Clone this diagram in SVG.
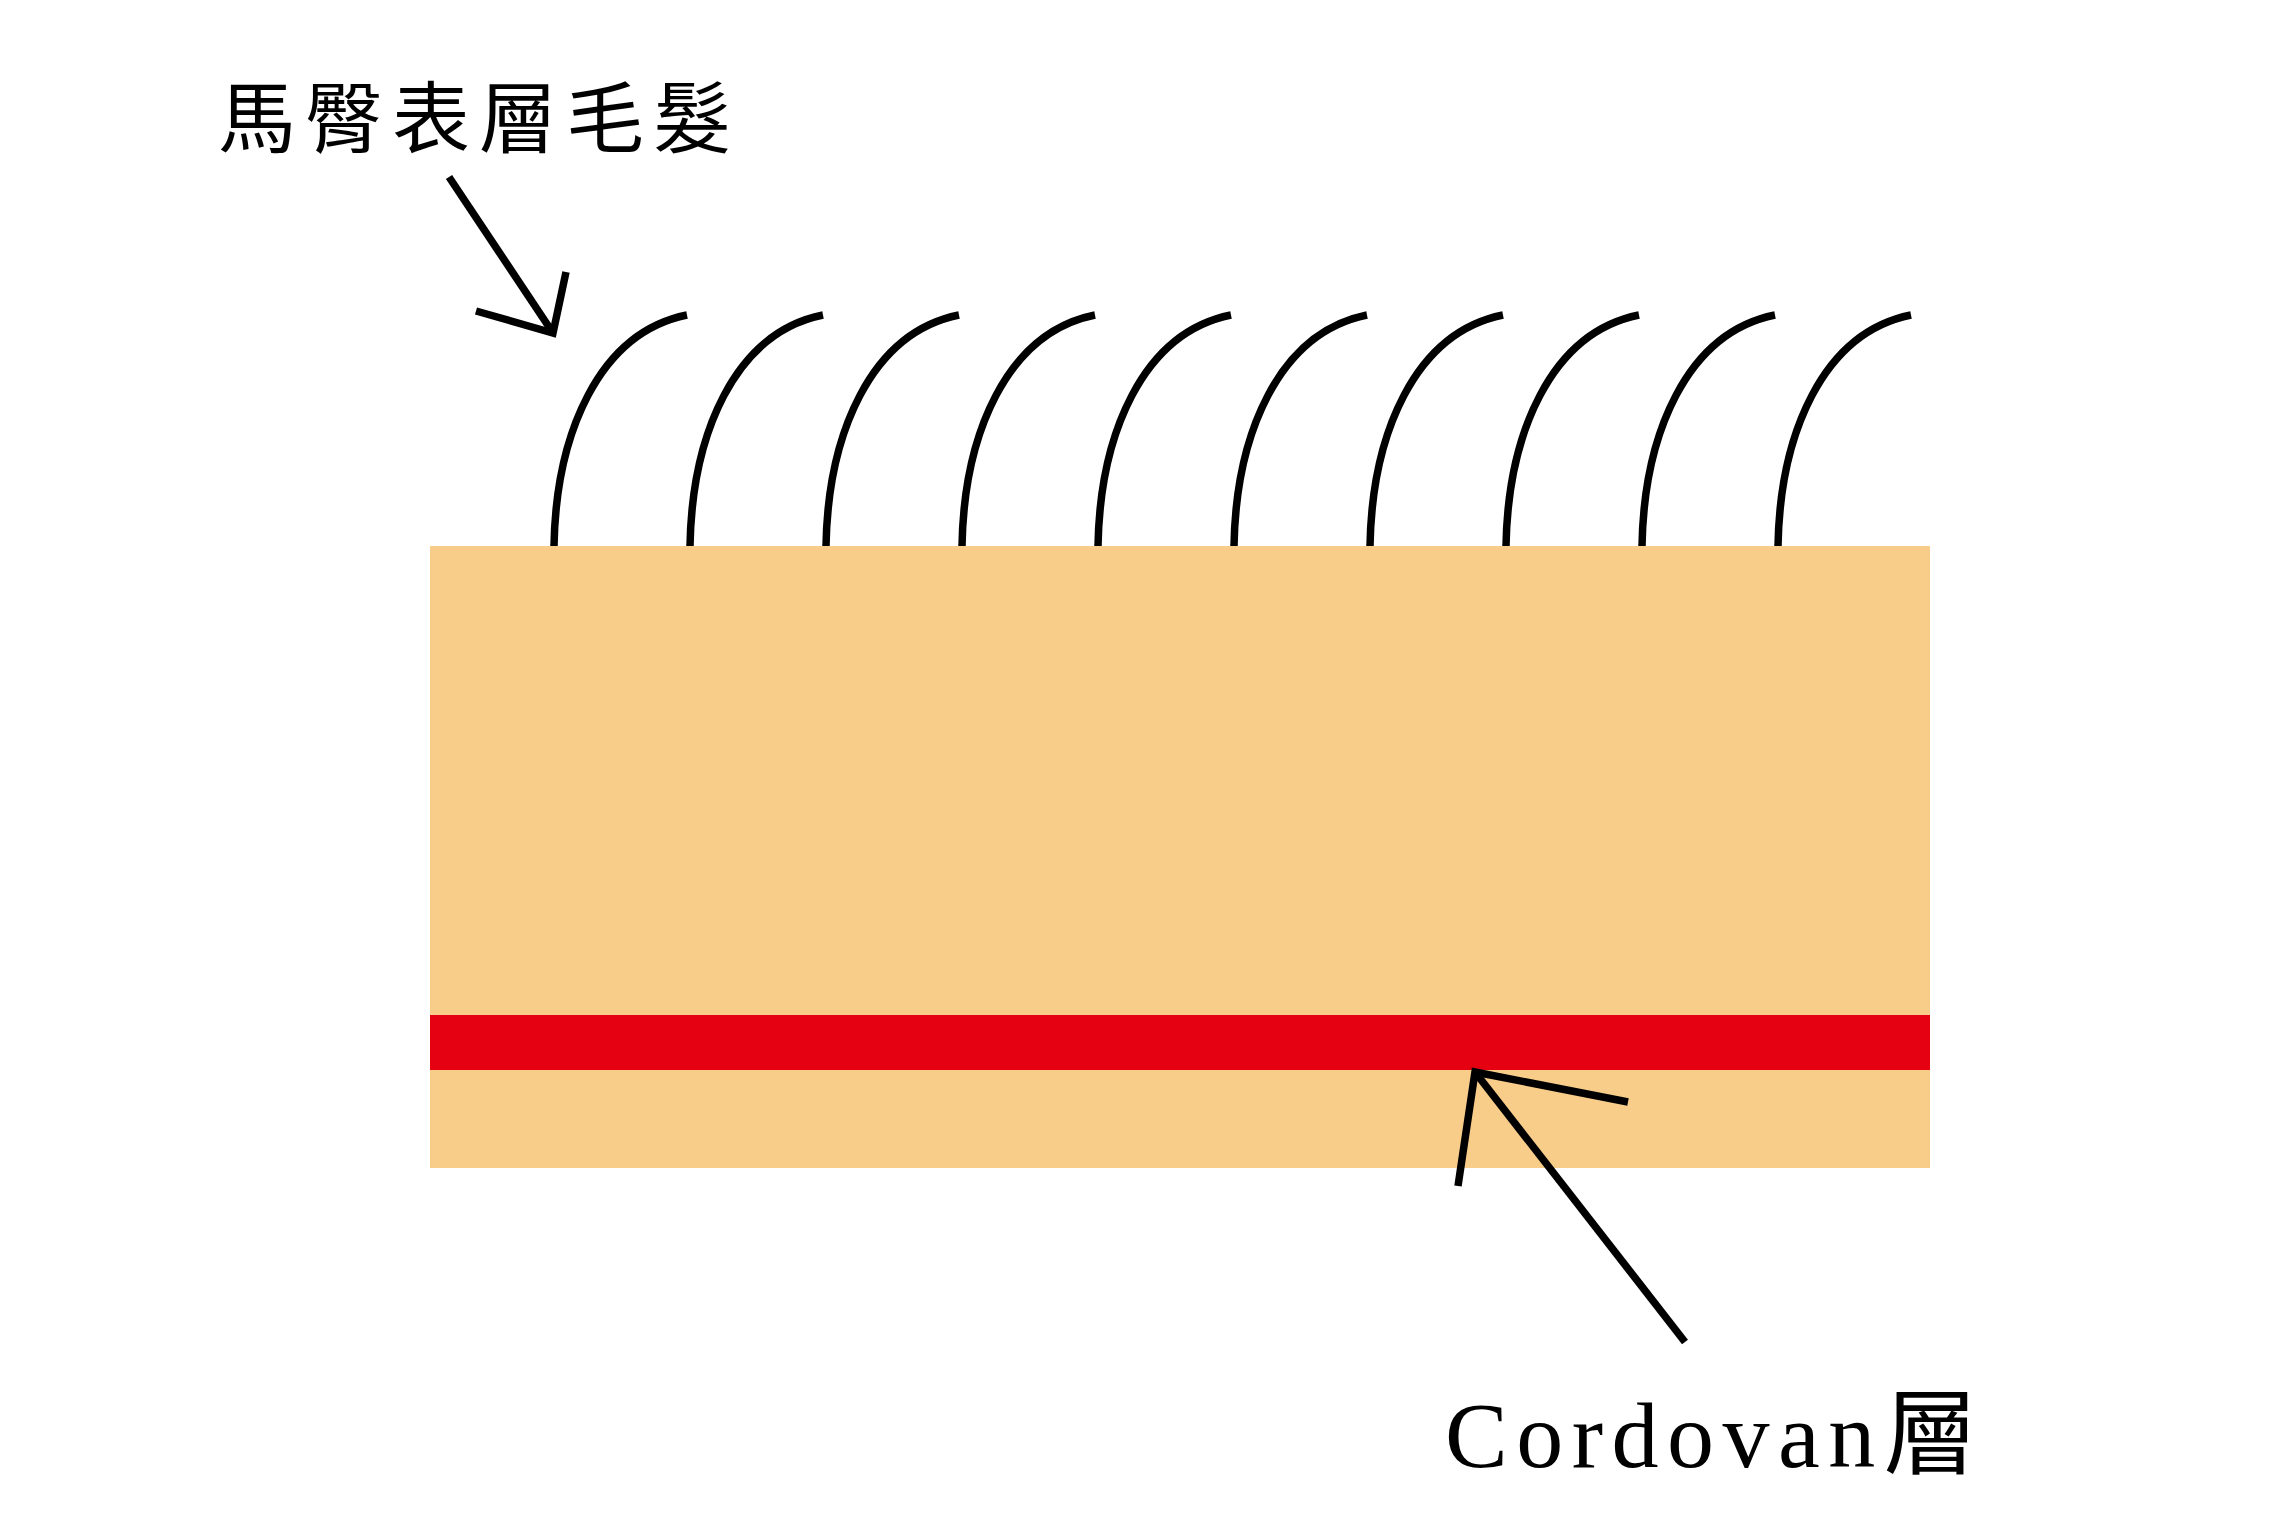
<svg xmlns="http://www.w3.org/2000/svg" xmlns:xlink="http://www.w3.org/1999/xlink" width="2280" height="1516" viewBox="0 0 2280 1516">
<style>
.ln{fill:none;stroke:#000;stroke-width:7.5;stroke-linecap:butt;stroke-linejoin:miter}
.lbl{font-family:"Liberation Serif","Noto Sans CJK TC",serif;fill:#000}
</style>
<defs>
<path id="hair" class="ln" d="M554,546 C556,435 598,333 687,315"/>
</defs>
<rect width="2280" height="1516" fill="#fff"/>
<g id="skin">
<rect x="430" y="546" width="1500" height="622" fill="#F8CD8A"/>
<rect x="430" y="1015" width="1500" height="55" fill="#E50012"/>
</g>
<g id="hairs">
<use xlink:href="#hair"/>
<use xlink:href="#hair" x="136"/>
<use xlink:href="#hair" x="272"/>
<use xlink:href="#hair" x="408"/>
<use xlink:href="#hair" x="544"/>
<use xlink:href="#hair" x="680"/>
<use xlink:href="#hair" x="816"/>
<use xlink:href="#hair" x="952"/>
<use xlink:href="#hair" x="1088"/>
<use xlink:href="#hair" x="1224"/>
</g>
<g id="connectors">
<path class="ln" d="M449,177 L553,333"/>
<path class="ln" d="M476,311 L553,333 L566,272"/>
<path class="ln" d="M1685,1342 L1475,1072"/>
<path class="ln" d="M1628,1102 L1475,1072 L1458,1186"/>
</g>
<g id="label-hair">
<text class="lbl" x="218" y="147" font-size="78" letter-spacing="9">馬臀表層毛髮</text>
</g>
<g id="label-cordovan">
<text class="lbl" x="1445" y="1467" font-size="94" letter-spacing="8.5">Cordovan層</text>
</g>
</svg>
